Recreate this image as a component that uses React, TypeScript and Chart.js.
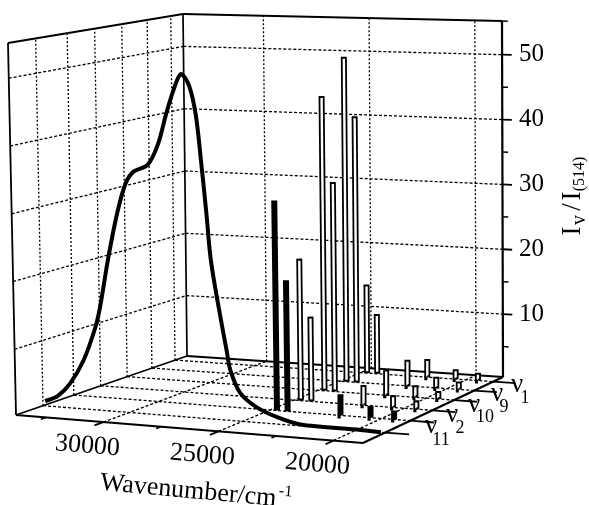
import React, { useEffect, useRef } from "react";
import { Chart, registerables } from "chart.js";

Chart.register(...registerables);

// ---------- data ----------
const wavenumberMajor = [30000, 25000, 20000];
const wavenumberMinor = [32500, 27500, 22500];
const intensityMajor = [10, 20, 30, 40, 50];
const intensityMinor = [5, 15, 25, 35, 45];
const modeNames = ["11", "2", "10", "9", "1"];
const depthAbsorption = 0.158;
const modeDepths = [0.338, 0.495, 0.65, 0.795, 0.93];
const excitation = [24691, 24213, 21834, 20492, 19436];
const v11 = [31.4, 19.7, 3.4, 2.05, 1.6];
const v2 = [21.6, 13, 3.3, 2.1, 1.6];
const v10 = [45.1, 32.1, 4.2, 2.1, 1.5];
const v9 = [50.3, 41.2, 4.3, 2.0, 1.5];
const v1 = [14.1, 9.6, 3.1, 1.8, 1.5];
const absWavenumber = [33700, 33150, 32590, 31975, 31430, 31190, 30800, 30360, 29980, 29620, 29000, 28530, 28160, 27840, 27480, 27130, 26850, 26650, 26450, 26300, 26020, 25640, 25500, 25080, 24360, 23470, 22450, 19800, 18900];
const absIntensity = [1.0, 1.9, 3.9, 7.5, 12.5, 15.8, 23, 29.9, 34.2, 36, 37.1, 40.2, 44.6, 48, 50.7, 49.1, 44.8, 38, 30.3, 23.9, 17.6, 10.2, 7.6, 4.4, 2.5, 1.3, 0.5, 0.4, 0.3];

// ---------- projection of the 3D box ----------
const WN_MAX = 33800;
const WN_SPAN = 15087;
const Z_MIN = 0.3;
const Z_MAX = 55.2;
type Pt = { x: number; y: number };
const floorA = { x: 16, y: 415 }, floorB = { x: 363, y: 443 }, floorD = { x: 187, y: 356 }, floorC = { x: 503, y: 377 };
const topA = { x: 8, y: 43 }, topB = { x: 358, y: 56 }, topD = { x: 183, y: 14 }, topC = { x: 502, y: 21 };
const bil = (a: Pt, b: Pt, d: Pt, c: Pt, u: number, t: number): Pt => ({
  x: (a.x * (1 - u) + b.x * u) * (1 - t) + (d.x * (1 - u) + c.x * u) * t,
  y: (a.y * (1 - u) + b.y * u) * (1 - t) + (d.y * (1 - u) + c.y * u) * t,
});
const projUV = (u: number, t: number, v: number): Pt => {
  const lo = bil(floorA, floorB, floorD, floorC, u, t);
  const hi = bil(topA, topB, topD, topC, u, t);
  const w = (v - Z_MIN) / (Z_MAX - Z_MIN);
  return { x: lo.x + (hi.x - lo.x) * w, y: lo.y + (hi.y - lo.y) * w };
};
const uOf = (wn: number) => (WN_MAX - wn) / WN_SPAN;
const proj = (wn: number, t: number, v: number) => projUV(uOf(wn), t, v);

const line = (data: Pt[], width: number, color = "#000", dash: number[] = [], extra: any = {}) => ({
  data,
  showLine: true,
  pointRadius: 0,
  borderColor: color,
  borderWidth: width,
  borderDash: dash,
  tension: 0,
  fill: false,
  ...extra,
});

const buildDatasets = () => {
  const front: any[] = [];
  // absorption curve on top
  front.push(line(absWavenumber.map((w, i) => proj(w, depthAbsorption, absIntensity[i])), 4, "#000", [], { tension: 0.3 }));
  // bars, front to back (first dataset is painted last)
  const seriesList = [v11, v2, v10, v9, v1];
  seriesList.forEach((vals, s) => {
    const t = modeDepths[s];
    excitation.forEach((wn, i) => {
      const value = vals[i];
      if (s === 0) {
        front.push(line([proj(wn, t, Z_MIN), proj(wn, t, value)], 6));
      } else {
        front.push(line([proj(wn, t, Z_MIN + 0.3), proj(wn, t, value - 0.3)], 2.4, "#fff"));
        front.push(line([proj(wn, t, Z_MIN), proj(wn, t, value)], 6));
      }
    });
  });
  // box edges
  const edges: [Pt, Pt, number][] = [
    [floorA, topA, 1.8], [topA, topD, 2], [topD, topC, 1.8], [floorD, topD, 1.7], [floorC, topC, 2.2],
    [floorA, floorB, 2.2], [floorB, floorC, 2.2], [floorA, floorD, 1.8], [floorD, floorC, 1.8],
  ];
  edges.forEach(([a, b, w]) => front.push(line([a, b], w)));
  // ticks
  wavenumberMajor.forEach((wn) => front.push(line([proj(wn, 0, Z_MIN), proj(wn, -0.055, Z_MIN)], 1.8)));
  wavenumberMinor.forEach((wn) => front.push(line([proj(wn, 0, Z_MIN), proj(wn, -0.03, Z_MIN)], 1.6)));
  [depthAbsorption, ...modeDepths].forEach((t) => front.push(line([projUV(1, t, Z_MIN), projUV(1.07, t, Z_MIN)], 1.8)));
  intensityMajor.forEach((v) => front.push(line([projUV(1, 1, v), projUV(1.03, 1, v)], 1.8)));
  intensityMinor.forEach((v) => front.push(line([projUV(1, 1, v), projUV(1.018, 1, v)], 1.5)));
  front.push(line([projUV(1, 1, Z_MAX), projUV(1.018, 1, Z_MAX)], 1.5));
  // dashed grid
  const dash = [3, 2];
  intensityMajor.forEach((v) => {
    front.push(line([projUV(0, 0, v), projUV(0, 1, v)], 1.3, "#000", dash));
    front.push(line([projUV(0, 1, v), projUV(1, 1, v)], 1.3, "#000", dash));
  });
  [depthAbsorption, ...modeDepths].forEach((t) => {
    front.push(line([projUV(0, t, Z_MIN), projUV(0, t, Z_MAX)], 1.3, "#000", [2, 2]));
    front.push(line([projUV(0, t, Z_MIN), projUV(1, t, Z_MIN)], 1.3, "#000", dash));
  });
  wavenumberMajor.forEach((wn) => {
    front.push(line([proj(wn, 1, Z_MIN), proj(wn, 1, Z_MAX)], 1.3, "#000", [2, 2]));
    front.push(line([proj(wn, 0, Z_MIN), proj(wn, 1, Z_MIN)], 1.3, "#000", dash));
  });
  return front;
};

const SERIF = '"Liberation Serif"';
const drawText = (ctx: CanvasRenderingContext2D, s: string, x: number, y: number, size: number, rot = 0, align: CanvasTextAlign = "center") => {
  ctx.save();
  ctx.translate(x, y);
  ctx.rotate((rot * Math.PI) / 180);
  ctx.font = `${size}px ${SERIF}`;
  ctx.textAlign = align;
  ctx.textBaseline = "middle";
  ctx.fillStyle = "#000";
  ctx.fillText(s, 0, 0);
  ctx.restore();
};

const labelsPlugin = {
  id: "labels",
  afterDraw(chart: any) {
    const ctx: CanvasRenderingContext2D = chart.ctx;
    wavenumberMajor.forEach((wn) => {
      const p = proj(wn, 0, Z_MIN);
      drawText(ctx, String(wn), p.x - 16, p.y + 24, 26, 4.5);
    });
    intensityMajor.forEach((v) => {
      const p = projUV(1, 1, v);
      drawText(ctx, String(v), 519, p.y, 25, 0, "left");
    });
    drawText(ctx, "Wavenumber/cm", 100, 483, 26, 5.2, "left");
    drawText(ctx, "-1", 279, 491, 16, 5.2, "left");
    // rotated intensity title
    drawText(ctx, "I", 573, 231, 27, -90);
    drawText(ctx, "v", 580, 220, 20, -90);
    drawText(ctx, "/", 573, 207, 27, -90);
    drawText(ctx, "I", 573, 196, 27, -90);
    drawText(ctx, "(514)", 580, 174, 16, -90);
    // mode labels
    const pos: [number, number][] = [[431, 426], [452, 415], [474, 405], [497, 394], [517, 385]];
    const sub: [number, number][] = [[441, 440], [460, 428], [485, 417], [504, 407], [525, 398]];
    modeNames.forEach((n, i) => {
      drawText(ctx, "ν", pos[i][0], pos[i][1], 27);
      drawText(ctx, n, sub[i][0], sub[i][1], 18);
    });
  },
};

export default function App() {
  const ref = useRef<HTMLCanvasElement>(null);
  useEffect(() => {
    const chart = new Chart(ref.current!, {
      type: "scatter",
      data: { datasets: buildDatasets() },
      options: {
        responsive: false,
        animation: false,
        layout: { padding: 0 },
        plugins: { legend: { display: false }, tooltip: { enabled: false } },
        scales: {
          x: { type: "linear", min: 0, max: 589, display: false },
          y: { type: "linear", min: 0, max: 505, reverse: true, display: false },
        },
      },
      plugins: [labelsPlugin],
    } as any);
    return () => chart.destroy();
  }, []);
  return (
    <canvas
      ref={ref}
      width={589}
      height={505}
      style={{ position: "absolute", left: 0, top: 0, display: "block", background: "#fff" }}
    />
  );
}
